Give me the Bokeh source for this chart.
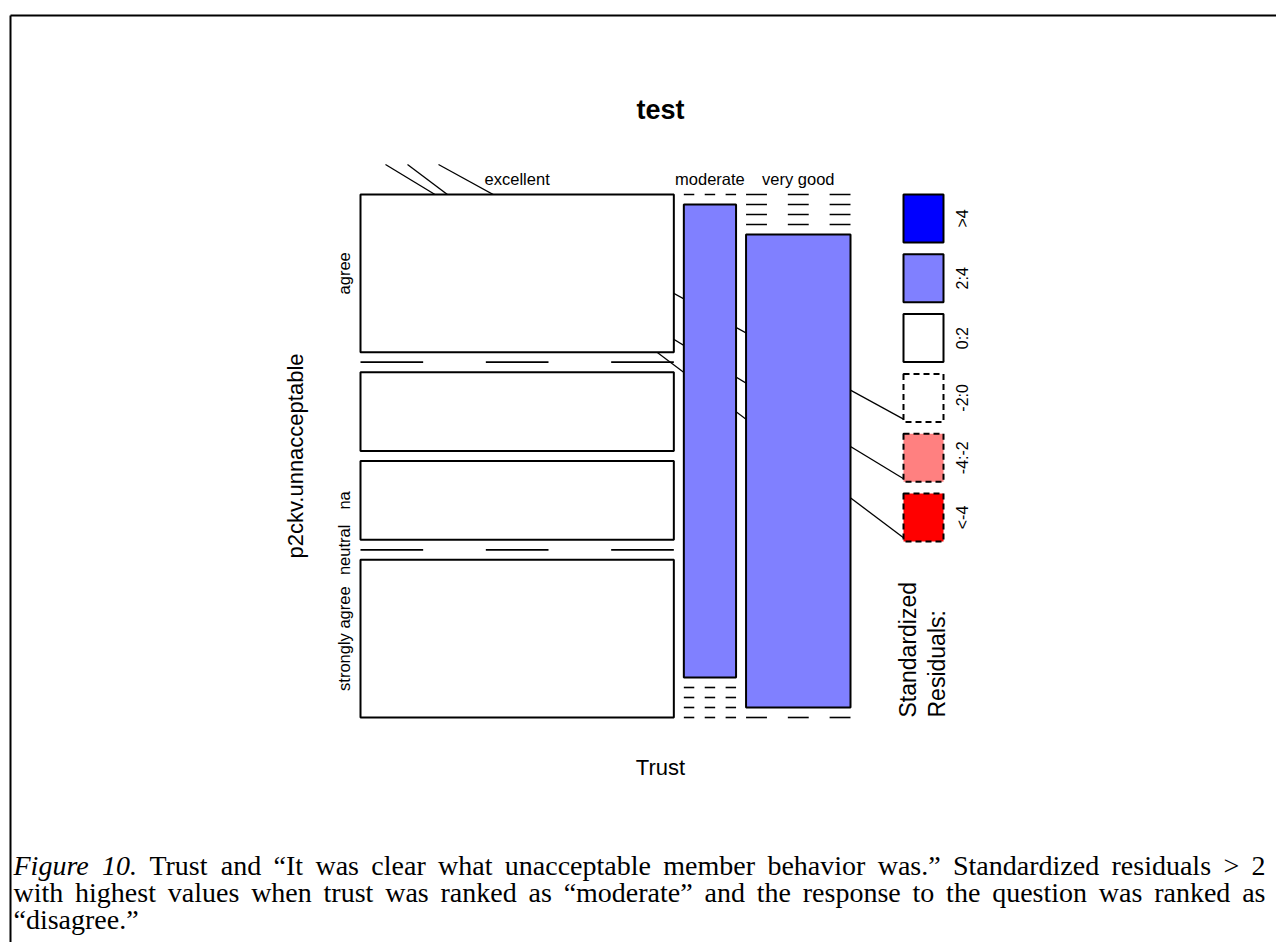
import numpy as np
from bokeh.plotting import figure
from bokeh.models import Range1d, ColumnDataSource
from bokeh.embed import file_html
from bokeh.resources import INLINE
from bokeh.core.properties import value

# ---------------- data ----------------
title = "test"
x_label = "Trust"
y_label = "p2ckv.unnacceptable"
trust_levels = ["excellent", "moderate", "very good"]
resp_levels = ["agree", "disagree", "other", "na", "neutral", "strongly agree"]
resp_tick_labels = ["agree", "", "", "na", "neutral", "strongly agree"]
counts_excellent = [2, 0, 1, 1, 0, 2]
counts_moderate = [0, 1, 0, 0, 0, 0]
counts_very_good = [0, 0, 0, 0, 2, 0]
legend_labels = [">4", "2:4", "0:2", "-2:0", "-4:-2", "<-4"]
legend_fill = ["#0000FF", "#8080FF", "#FFFFFF", "#FFFFFF", "#FF8080", "#FF0000"]
legend_dashed = [False, False, False, True, True, True]
legend_title_lines = ["Standardized", "Residuals:"]
caption_italic = "Figure 10."
caption_line1 = "Trust and \u201cIt was clear what unacceptable member behavior was.\u201d Standardized residuals > 2"
caption_line2 = "with highest values when trust was ranked as \u201cmoderate\u201d and the response to the question was ranked as"
caption_line3 = "\u201cdisagree.\u201d"

# ---------------- layout (page pixels, y downward) ----------------
W, H = 1276, 942
def Y(v):
    return H - np.asarray(v, dtype=float)

MX0, MX1, MY0, MY1 = 360.0, 850.0, 194.0, 717.0
GAP = 10.0
SANS = value("Liberation Sans")
SERIF = value("Liberation Serif")

counts = np.array([counts_excellent, counts_moderate, counts_very_good], dtype=float)  # cols x rows
n = counts.sum()
col_tot = counts.sum(axis=1)
row_tot = counts.sum(axis=0)
expected = np.outer(col_tot, row_tot) / n
resid = (counts - expected) / np.sqrt(expected)

def shade(r):
    if r > 4: return 0
    if r > 2: return 1
    if r >= 0: return 2
    if r > -2: return 3
    if r > -4: return 4
    return 5

ncol, nrow = counts.shape
col_w = (MX1 - MX0 - GAP * (ncol - 1)) * col_tot / n
box = dict(l=[], r=[], t=[], b=[], fill=[])
zero_segs = dict(x0=[], x1=[], y=[])
row_centers_first = []
x = MX0
for j in range(ncol):
    xl, xr = x, x + col_w[j]
    hs = (MY1 - MY0 - GAP * (nrow - 1)) * counts[j] / col_tot[j]
    y = MY0
    for i in range(nrow):
        yt, yb = y, y + hs[i]
        if j == 0:
            row_centers_first.append((yt + yb) / 2)
        if hs[i] > 0:
            k = shade(resid[j, i])
            box["l"].append(xl); box["r"].append(xr)
            box["t"].append(float(Y(yt))); box["b"].append(float(Y(yb)))
            box["fill"].append(legend_fill[k])
        else:
            seg = (xr - xl) / 5.0
            for s in (0, 2, 4):
                zero_segs["x0"].append(xl + s * seg)
                zero_segs["x1"].append(xl + (s + 1) * seg)
                zero_segs["y"].append(float(Y(yt)))
        y = yb + GAP
    x = xr + GAP

# legend layout
LX0, LX1 = 903.0, 943.0
L_STEP, L_H = 59.8, 48.0
leg_top = MY0 + np.arange(len(legend_labels)) * L_STEP
leg_bot = leg_top + L_H

p = figure(width=W, height=H, x_range=Range1d(0, W), y_range=Range1d(0, H),
           output_backend="svg", toolbar_location=None, min_border=0)
p.axis.visible = False
p.grid.visible = False
p.outline_line_color = None
p.background_fill_color = "white"

# page frame
p.segment(x0=[10, 10], y0=[Y(15), Y(15)], x1=[W, 10], y1=[Y(15), Y(H)], line_color="black", line_width=2)

# stray leader lines (drawn beneath the tiles), ending at the legend boxes
lead_x0 = [438.0, 385.0, 407.0]
lead_y0 = [164.0, 164.0, 164.0]
lead_end_idx = [3, 4, 5]
p.segment(x0=lead_x0, y0=Y(lead_y0), x1=[LX0 + 5] * 3, y1=Y(leg_bot[lead_end_idx]),
          line_color="black", line_width=1.3)

# tiles
src = ColumnDataSource(dict(l=box["l"], r=box["r"], t=box["t"], b=box["b"], fill=box["fill"]))
p.quad(left="l", right="r", top="t", bottom="b", fill_color="fill", line_color="black",
       line_width=2, source=src)
p.segment(x0=zero_segs["x0"], x1=zero_segs["x1"], y0=zero_segs["y"], y1=zero_segs["y"],
          line_color="black", line_width=1.6)

# legend boxes
for k in range(len(legend_labels)):
    p.quad(left=[LX0], right=[LX1], top=[float(Y(leg_top[k]))], bottom=[float(Y(leg_bot[k]))],
           fill_color=legend_fill[k], line_color="black", line_width=2,
           line_dash="6 4" if legend_dashed[k] else "solid")
p.text(x=[962.0] * len(legend_labels), y=Y((leg_top + leg_bot) / 2), text=legend_labels,
       angle=np.pi / 2, text_align="center", text_baseline="middle",
       text_font=SANS, text_font_size="16px", text_color="black")
p.text(x=[907.0, 936.0], y=Y([717.0, 717.0]), text=legend_title_lines, angle=np.pi / 2,
       text_align="left", text_baseline="middle", text_font=SANS, text_font_size="23px",
       text_color="black")

# column labels
col_centers = []
x = MX0
for j in range(ncol):
    col_centers.append(x + col_w[j] / 2)
    x += col_w[j] + GAP
p.text(x=col_centers, y=Y([178.0] * ncol), text=trust_levels, text_align="center",
       text_baseline="middle", text_font=SANS, text_font_size="16.5px", text_color="black")

# row labels (positions of the first column's tiles)
p.text(x=[343.0] * nrow, y=Y(row_centers_first), text=resp_tick_labels, angle=np.pi / 2,
       text_align="center", text_baseline="middle", text_font=SANS, text_font_size="16.5px",
       text_color="black")

# titles
p.text(x=[660.0], y=Y([109.0]), text=[title], text_align="center", text_baseline="middle",
       text_font=SANS, text_font_size="27px", text_font_style="bold", text_color="black")
p.text(x=[660.0], y=Y([767.0]), text=[x_label], text_align="center", text_baseline="middle",
       text_font=SANS, text_font_size="22px", text_color="black")
p.text(x=[295.0], y=Y([(MY0 + MY1) / 2]), text=[y_label], angle=np.pi / 2, text_align="center",
       text_baseline="middle", text_font=SANS, text_font_size="22px", text_color="black")

# caption: justified paragraph (approximate Times metrics, per 1000 em)
REG = {" ": 250, "a": 444, "b": 500, "c": 444, "d": 500, "e": 444, "f": 333, "g": 500, "h": 500,
       "i": 278, "k": 500, "l": 278, "m": 778, "n": 500, "o": 500, "p": 500, "q": 500, "r": 333,
       "s": 389, "t": 278, "u": 500, "v": 500, "w": 722, "y": 500, "z": 444, "S": 556, "T": 611,
       "I": 333, ".": 250, ">": 564, "2": 500, "1": 500, "0": 500, "\u201c": 444, "\u201d": 444}
ITA = dict(REG); ITA.update({"F": 611, "r": 389, "i": 278, "g": 500})
FS = 28.0
def wwidth(word, table):
    return sum(table.get(ch, 500) for ch in word) * FS / 1000.0

CAP_X0, CAP_X1 = 13.0, 1265.0
cap_lines = [
    ([(w, True) for w in caption_italic.split(" ")] + [(w, False) for w in caption_line1.split(" ")], 865.0, True),
    ([(w, False) for w in caption_line2.split(" ")], 892.0, True),
    ([(w, False) for w in caption_line3.split(" ")], 919.0, False),
]
reg_tok = dict(x=[], y=[], t=[])
ita_tok = dict(x=[], y=[], t=[])
for toks, yy, justify in cap_lines:
    widths = [wwidth(w, ITA if it else REG) for w, it in toks]
    sp = REG[" "] * FS / 1000.0
    natural = sum(widths) + sp * (len(toks) - 1)
    extra = (CAP_X1 - CAP_X0 - natural) / (len(toks) - 1) if (justify and len(toks) > 1) else 0.0
    xx = CAP_X0
    for (w, it), ww in zip(toks, widths):
        d = ita_tok if it else reg_tok
        d["x"].append(xx); d["y"].append(float(Y(yy))); d["t"].append(w)
        xx += ww + sp + extra
p.text(x=ita_tok["x"], y=ita_tok["y"], text=ita_tok["t"], text_align="left", text_baseline="middle",
       text_font=SERIF, text_font_size=f"{FS}px", text_font_style="italic", text_color="black")
p.text(x=reg_tok["x"], y=reg_tok["y"], text=reg_tok["t"], text_align="left", text_baseline="middle",
       text_font=SERIF, text_font_size=f"{FS}px", text_color="black")

open("out.html", "w").write(file_html(p, INLINE))
